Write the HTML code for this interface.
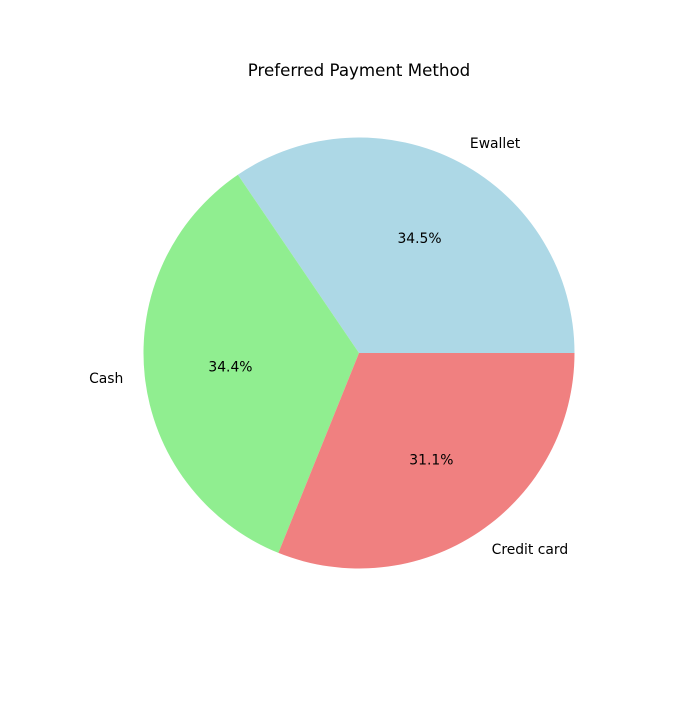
<!DOCTYPE html>
<html><head><meta charset="utf-8"><style>
html,body{margin:0;padding:0;background:#fff;}
svg text{font-family:"DejaVu Sans","Liberation Sans",sans-serif;fill:#000;}
</style></head><body>
<svg id="chart" width="700" height="700" viewBox="0 0 700 700">
<rect width="700" height="700" fill="#fff"/>
<text x="359" y="76" font-size="16.67" text-anchor="middle">Preferred Payment Method</text>
<g id="slices"></g>
</svg>
<script>
const categories = ["Ewallet", "Cash", "Credit card"];
const values = [34.5, 34.4, 31.1];
const colors = ["#add8e6", "#90ee90", "#f08080"];
const cx = 359, cy = 353, r = 215.5;
const g = document.getElementById('slices');
const ns = 'http://www.w3.org/2000/svg';
const total = values.reduce((a, b) => a + b, 0);
let a0 = 0;
values.forEach((v, i) => {
  const a1 = a0 + v / total * 2 * Math.PI;
  const x0 = cx + r * Math.cos(a0), y0 = cy - r * Math.sin(a0);
  const x1 = cx + r * Math.cos(a1), y1 = cy - r * Math.sin(a1);
  const large = (a1 - a0) > Math.PI ? 1 : 0;
  const p = document.createElementNS(ns, 'path');
  p.setAttribute('d', `M${cx},${cy} L${x0},${y0} A${r},${r} 0 ${large} 0 ${x1},${y1} Z`);
  p.setAttribute('fill', colors[i]);
  
  
  g.appendChild(p);
  const am = (a0 + a1) / 2;
  const lx = cx + 1.1 * r * Math.cos(am), ly = cy - 1.1 * r * Math.sin(am);
  const t = document.createElementNS(ns, 'text');
  t.setAttribute('x', lx); t.setAttribute('y', ly + 4.5);
  t.setAttribute('font-size', '13.89');
  t.setAttribute('text-anchor', Math.cos(am) >= 0 ? 'start' : 'end');
  t.textContent = categories[i];
  
  
  g.appendChild(t);
  const px = cx + 0.6 * r * Math.cos(am), py = cy - 0.6 * r * Math.sin(am);
  const pt = document.createElementNS(ns, 'text');
  pt.setAttribute('x', px); pt.setAttribute('y', py + 4.5);
  pt.setAttribute('font-size', '13.89');
  pt.setAttribute('text-anchor', 'middle');
  pt.textContent = (v / total * 100).toFixed(1) + '%';
  
  
  g.appendChild(pt);
  a0 = a1;
});
</script>
</body></html>
